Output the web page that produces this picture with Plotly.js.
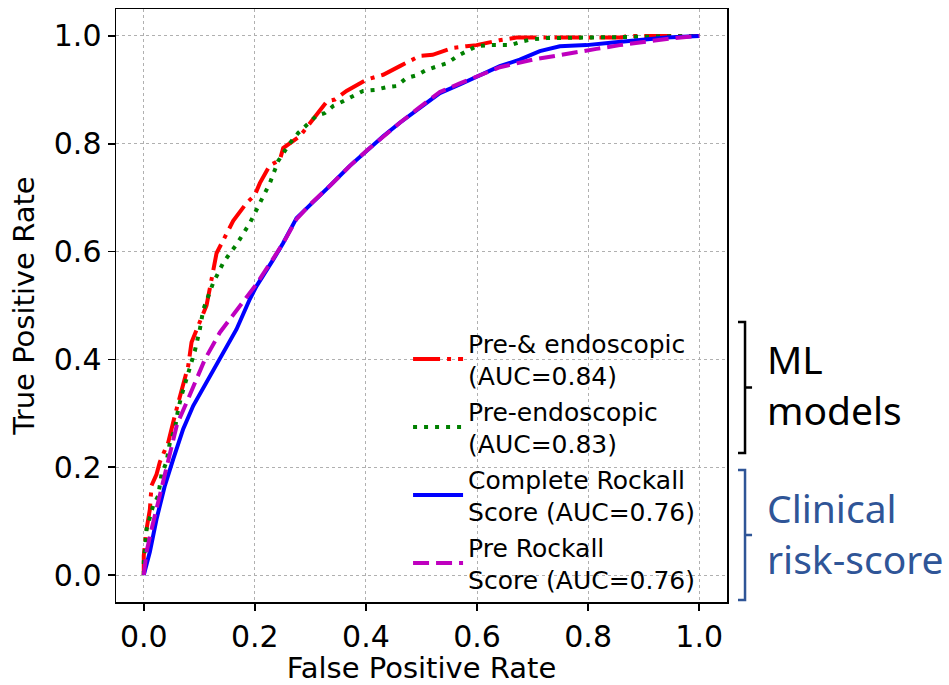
<!DOCTYPE html>
<html>
<head>
<meta charset="utf-8">
<script src="https://cdn.plot.ly/plotly-3.0.1.min.js"></script>
<style>html,body{margin:0;padding:0;background:#fff;}</style>
</head>
<body>
<div id="chart" style="width:949px;height:685px;"></div>
<script>
// ---- data ----
const tickVals = [0, 0.2, 0.4, 0.6, 0.8, 1.0];
const tickLabels = ['0.0', '0.2', '0.4', '0.6', '0.8', '1.0'];

const seriesNames = [
  'Pre-& endoscopic<br>(AUC=0.84)',
  'Pre-endoscopic<br>(AUC=0.83)',
  'Complete Rockall<br>Score (AUC=0.76)',
  'Pre Rockall<br>Score (AUC=0.76)'
];

const fprPreEndo = [0, 0, 0.005, 0.011, 0.014, 0.023, 0.029, 0.044, 0.056, 0.065, 0.08, 0.086, 0.095, 0.107, 0.113, 0.131, 0.14, 0.161, 0.185, 0.2, 0.209, 0.227, 0.245, 0.251, 0.281, 0.305, 0.33, 0.344, 0.365, 0.401, 0.431, 0.461, 0.479, 0.497, 0.52, 0.557, 0.581, 0.599, 0.64, 0.671, 0.86, 0.87, 1.0];
const tprPreEndo = [0, 0.036, 0.085, 0.122, 0.166, 0.187, 0.21, 0.246, 0.296, 0.333, 0.388, 0.432, 0.456, 0.486, 0.5, 0.597, 0.616, 0.657, 0.69, 0.705, 0.727, 0.76, 0.77, 0.792, 0.814, 0.845, 0.879, 0.882, 0.898, 0.919, 0.928, 0.944, 0.954, 0.963, 0.965, 0.978, 0.981, 0.983, 0.992, 0.997, 0.997, 1.0, 1.0];

const fprPre = [0, 0, 0.005, 0.011, 0.017, 0.026, 0.032, 0.041, 0.047, 0.056, 0.062, 0.068, 0.074, 0.083, 0.092, 0.101, 0.107, 0.125, 0.143, 0.155, 0.167, 0.191, 0.209, 0.227, 0.242, 0.263, 0.278, 0.293, 0.311, 0.326, 0.341, 0.359, 0.377, 0.395, 0.416, 0.437, 0.455, 0.473, 0.491, 0.509, 0.529, 0.547, 0.565, 0.581, 0.599, 0.619, 0.66, 0.682, 0.7, 0.725, 0.8, 0.88, 1.0];
const tprPre = [0, 0.024, 0.085, 0.104, 0.129, 0.147, 0.187, 0.21, 0.246, 0.271, 0.308, 0.333, 0.354, 0.388, 0.416, 0.456, 0.492, 0.542, 0.579, 0.597, 0.613, 0.653, 0.69, 0.727, 0.768, 0.801, 0.82, 0.835, 0.852, 0.857, 0.87, 0.879, 0.889, 0.898, 0.9, 0.905, 0.907, 0.922, 0.927, 0.937, 0.944, 0.95, 0.963, 0.972, 0.981, 0.983, 0.983, 0.99, 0.994, 0.996, 0.997, 0.999, 1.0];

const fprComplete = [0, 0.011, 0.023, 0.038, 0.053, 0.071, 0.089, 0.113, 0.137, 0.167, 0.191, 0.203, 0.233, 0.251, 0.275, 0.299, 0.335, 0.371, 0.401, 0.431, 0.461, 0.497, 0.533, 0.569, 0.605, 0.641, 0.677, 0.713, 0.749, 0.797, 0.845, 0.893, 0.941, 1.0];
const tprComplete = [0, 0.043, 0.104, 0.166, 0.215, 0.271, 0.314, 0.358, 0.4, 0.456, 0.512, 0.536, 0.585, 0.616, 0.662, 0.687, 0.722, 0.759, 0.787, 0.814, 0.839, 0.866, 0.894, 0.91, 0.928, 0.944, 0.956, 0.972, 0.981, 0.983, 0.988, 0.992, 0.997, 1.0];

const fprPreRockall = [0, 0.005, 0.014, 0.026, 0.041, 0.06, 0.08, 0.11, 0.137, 0.164, 0.182, 0.203, 0.233, 0.251, 0.275, 0.299, 0.335, 0.371, 0.401, 0.431, 0.461, 0.497, 0.533, 0.569, 0.605, 0.641, 0.7, 0.737, 0.773, 0.815, 0.857, 0.905, 0.953, 1.0];
const tprPreRockall = [0, 0.043, 0.085, 0.135, 0.203, 0.28, 0.327, 0.4, 0.45, 0.486, 0.512, 0.54, 0.587, 0.616, 0.66, 0.687, 0.722, 0.759, 0.787, 0.814, 0.839, 0.868, 0.896, 0.912, 0.928, 0.942, 0.956, 0.963, 0.969, 0.976, 0.983, 0.99, 0.996, 1.0];

const groupLabels = ['ML<br>models', 'Clinical<br>risk-score'];

// ---- chart ----
const F = 'DejaVu Sans, Verdana, sans-serif';
const traces = [
  {x: fprPreEndo, y: tprPreEndo, name: seriesNames[0], mode: 'lines',
   line: {color: '#ff0000', width: 4, dash: '27px,7px,4px,7px'}},
  {x: fprPre, y: tprPre, name: seriesNames[1], mode: 'lines',
   line: {color: '#008000', width: 4, dash: '4px,7px'}},
  {x: fprComplete, y: tprComplete, name: seriesNames[2], mode: 'lines',
   line: {color: '#0000ff', width: 4}},
  {x: fprPreRockall, y: tprPreRockall, name: seriesNames[3], mode: 'lines',
   line: {color: '#bf00bf', width: 4, dash: '16px,7px'}}
];

function axis(title) {
  return {
    range: [-0.05, 1.05], tickvals: tickVals, ticktext: tickLabels,
    showgrid: true, gridcolor: '#b0b0b0', gridwidth: 1, griddash: 'dot',
    zeroline: false, showline: true, linecolor: '#000', linewidth: 1.5, mirror: true,
    ticks: 'outside', ticklen: 7, tickwidth: 1.5, tickcolor: '#000',
    tickfont: {family: F, size: 30, color: '#000'},
    title: {text: title, font: {family: F, size: 29, color: '#000'}}
  };
}

const xa = axis('False Positive Rate');
xa.title.standoff = 6;
const ya = axis('True Positive Rate');
ya.title.standoff = 10;

// bracket positions in paper coords
const bx = 1.0295, bl = 1.018, br = 1.041;
function bracket(y0, y1, color) {
  const ym = (y0 + y1) / 2;
  return {
    type: 'path', xref: 'paper', yref: 'paper',
    path: `M ${bl} ${y1} L ${bx} ${y1} L ${bx} ${y0} L ${bl} ${y0} M ${bx} ${ym} L ${br} ${ym}`,
    line: {color: color, width: 2.5}
  };
}
const blk = '#000000', blu = '#2f5597';

const layout = {
  width: 949, height: 685,
  margin: {l: 116, r: 222, t: 9, b: 83},
  paper_bgcolor: '#fff', plot_bgcolor: '#fff',
  xaxis: xa, yaxis: ya,
  showlegend: true,
  legend: {x: 0.478, y: 0.4755, xanchor: 'left', yanchor: 'top',
           itemwidth: 50,
           bgcolor: 'rgba(0,0,0,0)', borderwidth: 0,
           font: {family: F, size: 25, color: '#000'}},
  shapes: [bracket(0.2513, 0.4722, blk), bracket(0.0034, 0.2226, blu)],
  annotations: [
    {xref: 'paper', yref: 'paper', x: 1.062, y: 0.368, xanchor: 'left', yanchor: 'middle',
     text: groupLabels[0], showarrow: false, align: 'left',
     font: {family: 'Noto Sans, Open Sans, sans-serif', size: 39, color: blk}},
    {xref: 'paper', yref: 'paper', x: 1.062, y: 0.116, xanchor: 'left', yanchor: 'middle',
     text: groupLabels[1], showarrow: false, align: 'left',
     font: {family: 'Noto Sans, Open Sans, sans-serif', size: 39, color: blu}}
  ]
};

Plotly.newPlot('chart', traces, layout, {displayModeBar: false, staticPlot: true});
</script>
</body>
</html>
